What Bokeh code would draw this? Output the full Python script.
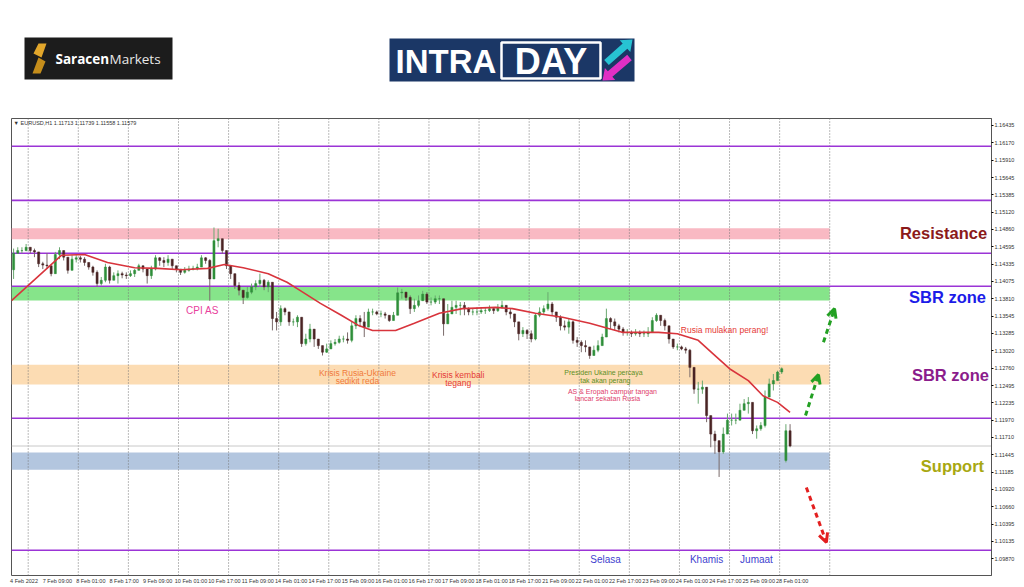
import numpy as np
from bokeh.plotting import figure
from bokeh.layouts import column
from bokeh.models import (Range1d, FixedTicker, PrintfTickFormatter, Span, BoxAnnotation,
                          Label, Arrow, OpenHead, ColumnDataSource)
from bokeh.core.properties import value
from bokeh.embed import file_html
from bokeh.resources import INLINE

# ---------------- data (EURUSD, 2-hour steps) ----------------
closes = [
    1.1450, 1.1454, 1.1454, 1.1459, 1.1454, 1.1452, 1.1434, 1.1432, 1.1431, 1.1419,
    1.1448, 1.1454, 1.1444, 1.1424, 1.1441, 1.1443, 1.1441, 1.1436, 1.1429, 1.1421,
    1.1404, 1.1409, 1.1429, 1.1409, 1.1416, 1.1419, 1.1417, 1.1416, 1.1419, 1.1424,
    1.1431, 1.1426, 1.1416, 1.1426, 1.1443, 1.1439, 1.1436, 1.1441, 1.1431, 1.1426,
    1.1421, 1.1424, 1.1426, 1.1427, 1.1429, 1.1443, 1.1439, 1.1411, 1.1469, 1.1472,
    1.1454, 1.1431, 1.1419, 1.1401, 1.1394, 1.1383, 1.1391, 1.1399, 1.1404, 1.1409,
    1.1399, 1.1406, 1.1351, 1.1346, 1.1366, 1.1361, 1.1346, 1.1346, 1.1353, 1.1313,
    1.1320, 1.1335, 1.1320, 1.1310, 1.1300, 1.1305, 1.1313, 1.1315, 1.1320, 1.1320,
    1.1318, 1.1340, 1.1351, 1.1346, 1.1338, 1.1361, 1.1361, 1.1358, 1.1358, 1.1356,
    1.1348, 1.1356, 1.1390, 1.1391, 1.1383, 1.1366, 1.1371, 1.1378, 1.1388, 1.1376,
    1.1376, 1.1381, 1.1381, 1.1343, 1.1358, 1.1368, 1.1371, 1.1371, 1.1366, 1.1361,
    1.1361, 1.1361, 1.1363, 1.1363, 1.1366, 1.1363, 1.1368, 1.1371, 1.1361, 1.1358,
    1.1346, 1.1328, 1.1333, 1.1328, 1.1320, 1.1356, 1.1361, 1.1366, 1.1373, 1.1361,
    1.1353, 1.1340, 1.1338, 1.1346, 1.1318, 1.1315, 1.1310, 1.1308, 1.1295, 1.1303,
    1.1310, 1.1323, 1.1351, 1.1346, 1.1340, 1.1335, 1.1330, 1.1330, 1.1328, 1.1330,
    1.1328, 1.1328, 1.1330, 1.1348, 1.1356, 1.1348, 1.1340, 1.1320, 1.1308, 1.1308,
    1.1305, 1.1303, 1.1277, 1.1244, 1.1244, 1.1247, 1.1204, 1.1176, 1.1166, 1.1149,
    1.1176, 1.1197, 1.1197, 1.1197, 1.1212, 1.1222, 1.1224, 1.1181, 1.1184, 1.1189,
    1.1232, 1.1252, 1.1257, 1.1270, 1.1275, 1.1181, 1.1158]

highs = [
    1.1457, 1.1459, 1.1459, 1.1464, 1.1458, 1.1457, 1.1447, 1.1437, 1.1450, 1.1431,
    1.1452, 1.1459, 1.1449, 1.1444, 1.1447, 1.1447, 1.1446, 1.1444, 1.1434, 1.1431,
    1.1424, 1.1414, 1.1434, 1.1431, 1.1421, 1.1424, 1.1422, 1.1421, 1.1424, 1.1426,
    1.1434, 1.1431, 1.1424, 1.1431, 1.1447, 1.1444, 1.1444, 1.1447, 1.1441, 1.1431,
    1.1426, 1.1429, 1.1431, 1.1431, 1.1434, 1.1447, 1.1444, 1.1441, 1.1489, 1.1487,
    1.1467, 1.1452, 1.1431, 1.1416, 1.1406, 1.1394, 1.1399, 1.1404, 1.1409, 1.1419,
    1.1411, 1.1409, 1.1406, 1.1361, 1.1371, 1.1368, 1.1356, 1.1351, 1.1356, 1.1346,
    1.1328, 1.1343, 1.1333, 1.1320, 1.1308, 1.1313, 1.1318, 1.1320, 1.1325, 1.1325,
    1.1330, 1.1346, 1.1356, 1.1356, 1.1361, 1.1366, 1.1366, 1.1363, 1.1363, 1.1361,
    1.1353, 1.1361, 1.1398, 1.1396, 1.1391, 1.1386, 1.1381, 1.1386, 1.1393, 1.1391,
    1.1383, 1.1386, 1.1386, 1.1381, 1.1373, 1.1378, 1.1378, 1.1376, 1.1376, 1.1368,
    1.1366, 1.1368, 1.1368, 1.1368, 1.1371, 1.1368, 1.1373, 1.1378, 1.1371, 1.1366,
    1.1358, 1.1346, 1.1338, 1.1335, 1.1333, 1.1358, 1.1368, 1.1371, 1.1391, 1.1376,
    1.1361, 1.1356, 1.1348, 1.1351, 1.1348, 1.1323, 1.1318, 1.1318, 1.1308, 1.1310,
    1.1318, 1.1328, 1.1366, 1.1353, 1.1351, 1.1343, 1.1338, 1.1335, 1.1333, 1.1335,
    1.1333, 1.1333, 1.1338, 1.1353, 1.1359, 1.1356, 1.1351, 1.1340, 1.1320, 1.1313,
    1.1310, 1.1308, 1.1305, 1.1277, 1.1255, 1.1257, 1.1247, 1.1204, 1.1181, 1.1166,
    1.1186, 1.1207, 1.1207, 1.1207, 1.1222, 1.1229, 1.1232, 1.1224, 1.1189, 1.1194,
    1.1242, 1.1260, 1.1267, 1.1272, 1.1277, 1.1191, 1.1191]

lows = [
    1.1411, 1.1449, 1.1450, 1.1453, 1.1450, 1.1444, 1.1429, 1.1426, 1.1426, 1.1415,
    1.1419, 1.1441, 1.1439, 1.1419, 1.1424, 1.1436, 1.1436, 1.1431, 1.1425, 1.1416,
    1.1399, 1.1401, 1.1406, 1.1404, 1.1409, 1.1404, 1.1412, 1.1411, 1.1414, 1.1414,
    1.1424, 1.1421, 1.1404, 1.1411, 1.1424, 1.1431, 1.1429, 1.1431, 1.1426, 1.1421,
    1.1417, 1.1419, 1.1422, 1.1424, 1.1424, 1.1431, 1.1434, 1.1378, 1.1411, 1.1459,
    1.1449, 1.1426, 1.1411, 1.1396, 1.1386, 1.1373, 1.1381, 1.1388, 1.1394, 1.1399,
    1.1394, 1.1391, 1.1333, 1.1333, 1.1340, 1.1356, 1.1340, 1.1340, 1.1338, 1.1308,
    1.1310, 1.1315, 1.1308, 1.1305, 1.1295, 1.1299, 1.1305, 1.1310, 1.1313, 1.1315,
    1.1313, 1.1315, 1.1335, 1.1338, 1.1323, 1.1346, 1.1356, 1.1356, 1.1353, 1.1351,
    1.1346, 1.1348, 1.1356, 1.1381, 1.1378, 1.1358, 1.1361, 1.1368, 1.1378, 1.1373,
    1.1371, 1.1373, 1.1373, 1.1325, 1.1346, 1.1358, 1.1358, 1.1356, 1.1356, 1.1356,
    1.1356, 1.1356, 1.1358, 1.1358, 1.1361, 1.1358, 1.1361, 1.1366, 1.1356, 1.1351,
    1.1338, 1.1318, 1.1323, 1.1320, 1.1315, 1.1318, 1.1353, 1.1358, 1.1363, 1.1356,
    1.1346, 1.1333, 1.1333, 1.1328, 1.1313, 1.1308, 1.1300, 1.1300, 1.1290, 1.1295,
    1.1300, 1.1313, 1.1323, 1.1335, 1.1333, 1.1330, 1.1325, 1.1325, 1.1323, 1.1325,
    1.1323, 1.1323, 1.1323, 1.1333, 1.1346, 1.1340, 1.1333, 1.1313, 1.1305, 1.1303,
    1.1303, 1.1298, 1.1262, 1.1237, 1.1222, 1.1237, 1.1194, 1.1156, 1.1146, 1.1111,
    1.1146, 1.1186, 1.1189, 1.1191, 1.1204, 1.1217, 1.1207, 1.1176, 1.1169, 1.1181,
    1.1186, 1.1232, 1.1242, 1.1257, 1.1267, 1.1133, 1.1156]

# opens that are not the previous close (first bar, Monday gap)
session_opens = {0: 1.1425, 185: 1.1136}

# moving average (red line), bar index (hours) and value
ma_bar = [0, 24, 35, 46, 59, 70, 81, 94, 102, 111, 123, 132, 138, 148, 158, 166, 173,
          184, 193, 205, 216, 232, 240, 251, 264, 277, 286, 293, 310, 319, 329, 336,
          344, 353, 360, 367, 373]
ma_val = [1.1378, 1.1447, 1.1448, 1.1436, 1.1428, 1.1427, 1.1425, 1.1427, 1.1433,
          1.1428, 1.1419, 1.1406, 1.1394, 1.1374, 1.1356, 1.1341, 1.1333, 1.1333,
          1.1344, 1.1359, 1.1366, 1.1368, 1.1366, 1.1359, 1.1353, 1.1344, 1.1336,
          1.1330, 1.1330, 1.1328, 1.1318, 1.1298, 1.1275, 1.1257, 1.1234, 1.1224, 1.1209]

x_labels = ["4 Feb 2022", "7 Feb 09:00", "8 Feb 01:00", "8 Feb 17:00", "9 Feb 09:00",
            "10 Feb 01:00", "10 Feb 17:00", "11 Feb 09:00", "14 Feb 01:00", "14 Feb 17:00",
            "15 Feb 09:00", "16 Feb 01:00", "16 Feb 17:00", "17 Feb 09:00", "18 Feb 01:00",
            "18 Feb 17:00", "21 Feb 09:00", "22 Feb 01:00", "22 Feb 17:00", "23 Feb 09:00",
            "24 Feb 01:00", "24 Feb 17:00", "25 Feb 09:00", "28 Feb 01:00"]

y_ticks = [1.16435, 1.16170, 1.15910, 1.15645, 1.15385, 1.15120, 1.14860, 1.14595,
           1.14335, 1.14075, 1.13810, 1.13545, 1.13285, 1.13020, 1.12760, 1.12495,
           1.12235, 1.11970, 1.11710, 1.11445, 1.11185, 1.10920, 1.10660, 1.10395,
           1.10135, 1.09870, 1.09610]

level_values = [1.1612, 1.1530, 1.1450, 1.1400, 1.1200, 1.1000]
level_tags = ["1.16000", "1.15300", "1.14500", "1.14000", "1.12000", "1.10000"]
last_price = 1.11579

zone_low = [1.1471, 1.13785, 1.1251, 1.1122]
zone_high = [1.1488, 1.13995, 1.1281, 1.1148]
zone_colors = ["#f9b9c3", "#86e48a", "#fcdcb3", "#b3c6df"]

# ---------------- layout constants ----------------
BAR_H = 2            # hours per candle
N_BARS_VIEW = 469.5  # width of view in hourly bars
ZONE_END = 392
GRID_BARS = [8 + 24 * j for j in range(17)]
LEFT, RIGHT = 11, 33

# ---------------- header with logos (page-pixel coordinates) ----------------
hdr = figure(width=1024, height=118, x_range=Range1d(LEFT, 1024 - RIGHT), y_range=Range1d(118, 0),
             output_backend="svg", toolbar_location=None, title=None,
             min_border_left=LEFT, min_border_right=RIGHT, min_border_top=0, min_border_bottom=0,
             x_axis_type=None, y_axis_type=None)
hdr.outline_line_color = None
hdr.background_fill_color = "white"
hdr.border_fill_color = "white"

hdr.quad(left=[24], right=[172], top=[37], bottom=[79], fill_color="#1c1c1c", line_color=None)
hdr.patch(x=[38, 46, 41, 33], y=[43, 43, 57, 53], fill_color="#e2a62b", line_color=None)
hdr.patch(x=[38, 45, 40, 32], y=[57, 61, 73, 73], fill_color="#c58d1b", line_color=None)
hdr.text(x=[55], y=[58], text=["Saracen"], text_font=value("Open Sans"), text_font_style="bold",
         text_font_size="13.5px", text_color="white", text_baseline="middle")
hdr.text(x=[109], y=[58], text=["Markets"], text_font=value("Open Sans"),
         text_font_size="13.5px", text_color="#e8e8e8", text_baseline="middle")

hdr.quad(left=[389], right=[634], top=[38], bottom=[81], fill_color="#1b3766", line_color=None)
hdr.text(x=[395], y=[61], text=["INTRA"], text_font=value("Liberation Sans"), text_font_style="bold",
         text_font_size="33px", text_color="white", text_baseline="middle")
hdr.quad(left=[501], right=[600], top=[42], bottom=[78], fill_color="#1b3766",
         line_color="white", line_width=2.5)
hdr.text(x=[550.5], y=[61], text=["DAY"], text_font=value("Liberation Sans"), text_font_style="bold",
         text_font_size="36px", text_color="white", text_align="center", text_baseline="middle")


def arrow_poly(x0, y0, x1, y1, w=7.0, hw=16.0, hl=10.0):
    d = np.array([x1 - x0, y1 - y0], float)
    L = np.hypot(*d)
    d /= L
    nrm = np.array([-d[1], d[0]])
    p0 = np.array([x0, y0], float)
    pb = p0 + d * (L - hl)
    pts = [p0 + nrm * w / 2, pb + nrm * w / 2, pb + nrm * hw / 2, np.array([x1, y1], float),
           pb - nrm * hw / 2, pb - nrm * w / 2, p0 - nrm * w / 2]
    return [q[0] for q in pts], [q[1] for q in pts]


ax, ay = arrow_poly(606, 62, 632, 39)
hdr.patch(x=ax, y=ay, fill_color="#27c3d3", line_color=None)
bx, by = arrow_poly(629, 57, 602, 80)
hdr.patch(x=bx, y=by, fill_color="#e02fc4", line_color=None)

# ---------------- main chart ----------------
p = figure(width=1024, height=469, x_range=Range1d(0, N_BARS_VIEW), y_range=Range1d(1.09617, 1.16541),
           output_backend="svg", toolbar_location=None, title=None, y_axis_location="right",
           min_border_left=LEFT, min_border_right=RIGHT, min_border_top=0, min_border_bottom=12)
p.outline_line_color = "#555555"
p.background_fill_color = "white"
p.xgrid.visible = False
p.ygrid.visible = False

# zones
for lo, hi, col in zip(zone_low, zone_high, zone_colors):
    p.add_layout(BoxAnnotation(left=0, right=ZONE_END, bottom=lo, top=hi, fill_color=col,
                               fill_alpha=1.0, line_alpha=0, level="underlay"))

# vertical dotted grid
for b in GRID_BARS:
    p.add_layout(Span(location=b, dimension="height", line_color="#777777", line_width=1,
                      line_dash="1 2", level="underlay"))

# horizontal levels
for lv in level_values:
    p.add_layout(Span(location=lv, dimension="width", line_color="#9b34d6", line_width=1.6,
                      level="underlay"))
p.add_layout(Span(location=last_price, dimension="width", line_color="#c8c8c8", line_width=1,
                  level="underlay"))

# candles
n = len(closes)
opens = [session_opens[k] if k in session_opens else closes[k - 1] for k in range(n)]
xs = [k * BAR_H + BAR_H / 2 for k in range(n)]
hi_ = [max(h, o, c) for h, o, c in zip(highs, opens, closes)]
lo_ = [min(l, o, c) for l, o, c in zip(lows, opens, closes)]
col = ["#2f8f3a" if c >= o else "#4a2424" for o, c in zip(opens, closes)]
wick = ["#6aa870" if c >= o else "#7a6a6a" for o, c in zip(opens, closes)]
src = ColumnDataSource(dict(x=xs, top=[max(o, c) for o, c in zip(opens, closes)],
                            bottom=[min(o, c) for o, c in zip(opens, closes)],
                            high=hi_, low=lo_, color=col, wick=wick))
p.segment(x0="x", y0="high", x1="x", y1="low", color="wick", line_width=1, source=src)
p.vbar(x="x", width=1.0, top="top", bottom="bottom", fill_color="color", line_color="color",
       line_width=0.5, source=src)

# moving average
p.line(ma_bar, ma_val, line_color="#d8343c", line_width=1.6)

# axes
p.xaxis.ticker = FixedTicker(ticks=[16 * j + 6 for j in range(len(x_labels))])
p.xaxis.major_label_overrides = {16 * j + 6: lab for j, lab in enumerate(x_labels)}
p.xaxis.major_label_text_font_size = "5.5px"
p.xaxis.major_label_text_color = "#333333"
p.xaxis.major_label_standoff = 2
p.xaxis.major_tick_out = 0
p.xaxis.major_tick_in = 0
p.xaxis.minor_tick_out = 0
p.xaxis.minor_tick_in = 0
p.xaxis.axis_line_color = None

p.yaxis.ticker = FixedTicker(ticks=y_ticks)
p.yaxis.formatter = PrintfTickFormatter(format="%.5f")
p.yaxis.major_label_text_font_size = "5.5px"
p.yaxis.major_label_text_color = "#333333"
p.yaxis.major_label_standoff = 1
p.yaxis.major_tick_out = 2
p.yaxis.major_tick_in = 0
p.yaxis.minor_tick_out = 0
p.yaxis.minor_tick_in = 0
p.yaxis.axis_line_color = "#555555"

# price tags on the right axis
for lv, tag in zip(level_values, level_tags):
    p.add_layout(Label(x=N_BARS_VIEW, y=lv, x_offset=2, text=tag, text_font_size="5.5px",
                       text_color="white", text_baseline="middle", text_align="left",
                       background_fill_color="#9b34d6", padding=1))
p.add_layout(Label(x=N_BARS_VIEW, y=last_price, x_offset=2, text=f"{last_price:.5f}",
                   text_font_size="5.5px", text_color="white", text_baseline="middle",
                   text_align="left", background_fill_color="#111111", padding=1))

# chart header text
p.add_layout(Label(x=1, y=1.1647, text="\u25bc EURUSD,H1  1.11713 1.11739 1.11558 1.11579",
                   text_font_size="5.5px", text_color="#333333", text_baseline="middle"))

# annotations
notes = [
    ("CPI AS", 91.5, 1.1363, "#e8409c", "10px", "normal"),
    ("Krisis Rusia-Ukraine", 165.7, 1.1269, "#f07a3a", "8.5px", "normal"),
    ("sedikit reda", 165.7, 1.1256, "#f07a3a", "8.5px", "normal"),
    ("Krisis kembali", 214, 1.1266, "#e53935", "8.5px", "normal"),
    ("tegang", 214, 1.1254, "#e53935", "8.5px", "normal"),
    ("Presiden Ukaine percaya", 283.6, 1.1269, "#5e8f1f", "7px", "normal"),
    ("tak akan perang", 284.5, 1.1257, "#5e8f1f", "7px", "normal"),
    ("AS & Eropah campur tangan", 287.9, 1.1240, "#e0406a", "7px", "normal"),
    ("lancar sekatan Rusia", 285.5, 1.1230, "#e0406a", "7px", "normal"),
    ("Rusia mulakan perang!", 341.6, 1.1334, "#e53935", "8.5px", "normal"),
    ("Selasa", 284.6, 1.0986, "#3f3fcf", "10px", "normal"),
    ("Khamis", 333, 1.0986, "#3f3fcf", "10px", "normal"),
    ("Jumaat", 356.9, 1.0986, "#3f3fcf", "10px", "normal"),
    ("Resistance", 446.5, 1.1481, "#8b1a1a", "16.5px", "bold"),
    ("SBR zone", 448.4, 1.1383, "#1c1ce8", "16.5px", "bold"),
    ("SBR zone", 449.8, 1.1266, "#8b1c8b", "16.5px", "bold"),
    ("Support", 450.8, 1.1127, "#a8a812", "16.5px", "bold"),
]
for txt, nx, ny, c, fs, st in notes:
    p.add_layout(Label(x=nx, y=ny, text=txt, text_color=c, text_font_size=fs,
                       text_font_style=st, text_font="Liberation Sans",
                       text_align="center", text_baseline="middle"))

# dashed arrows
for (xs0, ys0, xe, ye, c) in [(389, 1.1315, 394.3, 1.1366, "#23a023"),
                              (380.4, 1.1204, 386.6, 1.1266, "#23a023"),
                              (380.8, 1.1095, 390.4, 1.1012, "#e32020")]:
    p.add_layout(Arrow(end=OpenHead(line_color=c, line_width=3, size=9),
                       x_start=xs0, y_start=ys0, x_end=xe, y_end=ye,
                       line_color=c, line_width=3, line_dash="5 4"))

layout = column(hdr, p)
open("out.html", "w").write(file_html(layout, INLINE))
